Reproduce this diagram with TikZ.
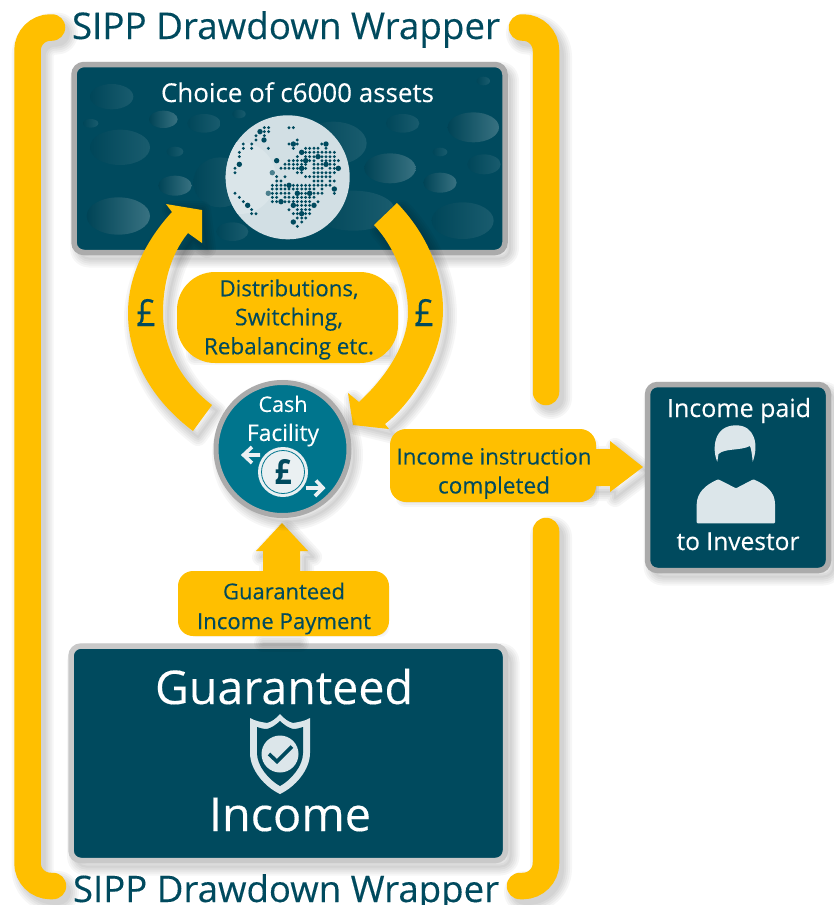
\documentclass[tikz,border=0pt]{standalone}
\usepackage{fontspec}
\usepackage{graphicx}
\setmainfont[FakeBold=0.25,BoldFeatures={FakeBold=0}]{Open Sans}
\definecolor{gold}{HTML}{FFBF00}
\definecolor{deep}{HTML}{004A5E}
\definecolor{teal1}{HTML}{00758D}
\definecolor{pale}{HTML}{DCE6EA}
\definecolor{globebase}{HTML}{D2DFE4}
\definecolor{globelight}{HTML}{DAE5E9}
\definecolor{edge}{HTML}{ABABAB}
\definecolor{edgeb}{HTML}{C9C9C9}
\newcommand\W[2]{\resizebox{#1pt}{!}{#2}}
\newcommand\softshadow[2][]{\foreach \w in {18,14,10,6,2}{\path[draw=black,draw opacity=.035,line width=\w pt,line join=round,line cap=round,shift={(5,6)},#1] #2;}}
\newcommand\bub[5]{\shade[left color=#5L,right color=#5R] ({60+#1/3},{50+#2/3}) ellipse ({#3/3} and {#4/3});}
\colorlet{strongL}{deep!92!black}
\colorlet{strongR}{deep!78!white}
\colorlet{softL}{deep!95!black}
\colorlet{softR}{deep!90!white}
\newcommand\dotrow[2]{\foreach \x in {#2}{\fill[deep] ({220+\x/3},{115+#1/3}) circle (1.6pt);}}
\newcommand\bigdot[2]{\fill[deep] ({220+#1/3},{115+#2/3}) circle (2.7pt);}
\tikzset{
  box/.style={rectangle,rounded corners=10pt,draw=edge,line width=5.5pt,fill=deep,inner sep=0pt},
  pill/.style={rectangle,fill=gold,inner sep=0pt,align=center,text=deep},
  wrap/.style={draw=gold,line width=26.5pt,line cap=round,rounded corners=23pt},
  lbl/.style={inner sep=0pt,anchor=base},
  multi/.style={inner sep=0pt,align=center,font=\fontsize{20}{#1}\selectfont},
  wrapshadow/.style={line width=24pt+\w pt}
}
\begin{document}
\begin{tikzpicture}[x=1pt,y=-1pt]
\useasboundingbox (0,0) rectangle (834,905);
\fill[white] (0,0) rectangle (834,905);
% wrapper brackets
\softshadow[wrapshadow,rounded corners=23pt]{(52,27.5) -- (27.5,27.5) -- (27.5,886) -- (53,886)}
\softshadow[wrapshadow,rounded corners=23pt]{(522,27.5) -- (546,27.5) -- (546,392)}
\softshadow[wrapshadow,rounded corners=23pt]{(546,531) -- (546,886) -- (520,886)}
\draw[wrap] (52,27.5) -- (27.5,27.5) -- (27.5,886) -- (53,886);
\draw[wrap] (522,27.5) -- (546,27.5) -- (546,392);
\draw[wrap] (546,531) -- (546,886) -- (520,886);
\node[lbl,text=deep] (wraptop) at (286,39) {\W{428}{SIPP Drawdown Wrapper}};
\node[lbl,text=deep] (wrapbot) at (286,902) {\W{426}{SIPP Drawdown Wrapper}};
% assets box
\softshadow[rounded corners=10pt]{(74,64.5) rectangle (505,252.5)}
\node[box,minimum width=431pt,minimum height=188pt] (assets) at (289.5,158.5) {};
\bub{155}{140}{65}{38}{soft}
\bub{310}{208}{43}{26}{strong}
\bub{432}{220}{50}{28}{soft}
\bub{537}{192}{20}{13}{soft}
\bub{92}{220}{23}{13}{soft}
\bub{180}{292}{90}{53}{soft}
\bub{345}{305}{25}{15}{soft}
\bub{345}{407}{50}{30}{strong}
\bub{175}{498}{95}{56}{strong}
\bub{1270}{93}{20}{13}{soft}
\bub{1028}{220}{50}{28}{soft}
\bub{1240}{232}{77}{45}{strong}
\bub{1140}{306}{22}{13}{soft}
\bub{1272}{343}{50}{30}{soft}
\bub{990}{355}{77}{45}{strong}
\bub{1140}{398}{50}{30}{strong}
\bub{1208}{512}{93}{55}{soft}
\bub{880}{482}{125}{60}{soft}
\bub{517}{545}{48}{28}{soft}
\bub{480}{397}{80}{75}{soft}
\bub{820}{280}{100}{65}{soft}
% globe
\node[circle,fill=globebase,minimum size=124pt,inner sep=0pt] (globe) at (287.7,177.3) {};
\begin{scope}
\clip (287.7,177.3) circle (62pt);
\fill[globelight] (240,178) circle (36pt);
\end{scope}
\dotrow{38}{133,146,207,220}
\dotrow{50}{133,146}
\dotrow{62}{108,133}
\dotrow{75}{108,232}
\dotrow{87}{70,95,207,232,305}
\dotrow{100}{70,95,145,220,257,269,282,294,318}
\dotrow{112}{58,257,269,282,294,306,318,330,343}
\dotrow{125}{58,232,257,269,282,306,318,330,343}
\dotrow{137}{207,220,232,245,269,282,306,318,330,343,355}
\dotrow{148}{195,207,220,232,245,257,282,294,306,330,343}
\dotrow{160}{45,183,195,207,220,232,257,282,294,306,330,343}
\dotrow{173}{45,232,245,282,294,306,318,330,343}
\dotrow{185}{170,195,257,269,282,294,306,318,330}
\dotrow{198}{170,183,282,294,306,330,343}
\dotrow{211}{157,170,183,195,220,232,245,257,269,282,294,306,318,330}
\dotrow{222}{157,170,183,195,207,220,232,245,257,269,282,306}
\dotrow{235}{45,157,170,183,195,207,245,257,282,294,306,343}
\dotrow{247}{58,157,170,195,207,220,232,245,257,269,282}
\dotrow{260}{70,157,170,195,207,220,232,245,257,269,294}
\dotrow{271}{232,245,257,269}
\dotrow{284}{95,207,232,245,257,269}
\dotrow{296}{95,108,220,232,257,269}
\dotrow{309}{232,245,257}
\dotrow{321}{245}
\dotrow{334}{232}
\bigdot{120}{50}\bigdot{132}{75}\bigdot{58}{148}\bigdot{170}{137}\bigdot{220}{87}\bigdot{245}{112}\bigdot{318}{87}\bigdot{257}{137}\bigdot{294}{125}\bigdot{245}{160}\bigdot{318}{148}\bigdot{355}{160}\bigdot{207}{211}\bigdot{343}{222}\bigdot{232}{235}\bigdot{269}{235}\bigdot{183}{260}\bigdot{220}{271}\bigdot{282}{271}\bigdot{245}{296}\bigdot{220}{321}\bigdot{83}{271}
\fill[deep!70!white] (272.3,172.7) circle (2.7pt);
\fill[deep!70!white] (268.3,193.3) circle (2.7pt);
\node[lbl,text=white] (assetstitle) at (297.5,102) {\W{273}{Choice of c6000 assets}};
% distributions pill
\softshadow{(190,285) rectangle (385,350)}
\node[pill,rounded corners=38pt,minimum width=221pt,minimum height=91pt] (dist) at (287.5,317.5) {};
\node[multi=29,text=deep] (disttext) at (289,319.5) {\W{139}{Distributions,}\\\W{108}{Switching,}\\\W{170}{Rebalancing etc.}};
% curved arrows
\coordinate (lefttip) at (202,210);
\coordinate (righttip) at (353,425);
\softshadow{(193,431) .. controls (157,404) and (128,363) .. (128,313) .. controls (128,275) and (147,239) .. (172,212) -- (166,204) -- (lefttip) -- (202,243) -- (188,233) .. controls (170,255) and (163,285) .. (163,313) .. controls (163,350) and (184,384) .. (212,405) -- cycle}
\fill[gold] (193,431) .. controls (157,404) and (128,363) .. (128,313) .. controls (128,275) and (147,239) .. (172,212) -- (166,204) -- (lefttip) -- (202,243) -- (188,233) .. controls (170,255) and (163,285) .. (163,313) .. controls (163,350) and (184,384) .. (212,405) -- cycle;
\softshadow{(397,203) .. controls (425,232) and (443,270) .. (443,310) .. controls (443,355) and (413,402) .. (385,424) -- (389,429) -- (righttip) -- (348,393) -- (359,402) .. controls (385,378) and (408,345) .. (408,312) .. controls (408,280) and (394,246) .. (374,225) -- cycle}
\fill[gold] (397,203) .. controls (425,232) and (443,270) .. (443,310) .. controls (443,355) and (413,402) .. (385,424) -- (389,429) -- (righttip) -- (348,393) -- (359,402) .. controls (385,378) and (408,345) .. (408,312) .. controls (408,280) and (394,246) .. (374,225) -- cycle;
\node[lbl,text=deep] (poundl) at (146,326) {\resizebox{19pt}{27pt}{£}};
\node[lbl,text=deep] (poundr) at (424,326) {\resizebox{19pt}{27pt}{£}};
% guaranteed box
\softshadow[rounded corners=10pt]{(71,646) rectangle (505.5,860.5)}
\node[box,draw=edgeb,minimum width=434.5pt,minimum height=214.5pt] (guar) at (288.25,753.25) {};
\node[lbl,text=white] (guartext) at (284,704) {\W{258}{Guaranteed}};
\node[lbl,text=white] (inctext) at (290,831) {\W{162}{Income}};
\fill[pale] (280,714) .. controls (276,719) and (271,722) .. (267,723) .. controls (261,722) and (255,721) .. (250,718) -- (250,753) .. controls (250,770) and (265,787) .. (280,794) .. controls (295,787) and (310,770) .. (310,753) -- (310,718) .. controls (305,721) and (299,722) .. (293,723) .. controls (289,722) and (284,719) .. (280,714) -- cycle;
\fill[deep] (280,721) .. controls (276,725) and (271,728) .. (267,729) .. controls (263,729) and (260,728) .. (257,727) -- (257,753) .. controls (257,766) and (269,780) .. (280,786) .. controls (291,780) and (303,766) .. (303,753) -- (303,727) .. controls (300,728) and (297,729) .. (293,729) .. controls (289,728) and (284,725) .. (280,721) -- cycle;
\fill[pale] (280,754) circle (18.5pt);
\draw[deep,line width=3.6pt] (269,754) -- (277,761.5) -- (292,746.5);
% guaranteed payment
\softshadow{(263,600) -- (263,551) -- (256,551) -- (282,523) -- (308,551) -- (300,551) -- (300,600) -- cycle}
\softshadow{(192,585) rectangle (375,622)}
\softshadow{(258,637) -- (295,637)}
\fill[gold] (263,600) -- (263,551) -- (256,551) -- (282,523) -- (308,551) -- (300,551) -- (300,600) -- cycle;
\node[pill,rounded corners=15pt,minimum width=211pt,minimum height=65pt] (pay) at (283.5,603.5) {};
\node[multi=29.8,text=deep] (paytext) at (284,608.5) {\W{122}{Guaranteed}\\\W{174}{Income Payment}};
% cash facility
\softshadow{(282.5,449) circle (66.5pt)}
\node[circle,draw=edge,line width=5pt,fill=teal1,minimum size=133pt,inner sep=0pt] (cash) at (282.5,449) {};
\node[multi=29,text=white] (cashtext) at (283,421) {\W{49}{Cash}\\\W{72}{Facility}};
\node[circle,fill=pale!60!white,minimum size=50pt,inner sep=0pt] (coin) at (283,472) {};
\draw[teal1,line width=.8pt] (coin.center) circle (21.5pt);
\node[lbl,text=deep] (coinpound) at (283,484) {\resizebox{17pt}{25pt}{\bfseries £}};
\draw[pale!60!white,line width=3.6pt,line join=miter] (260,455) -- (243,455) (252,447) -- (243.5,455) -- (252,463);
\draw[pale!60!white,line width=3.6pt,line join=miter] (306,488) -- (323,488) (316,480.5) -- (323,488) -- (315,496);
% income instruction
\softshadow{(596,449) -- (610,449) -- (610,441) -- (643,467) -- (610,492) -- (610,486) -- (590,486) -- cycle}
\softshadow{(400,440) rectangle (585,492)}
\fill[gold] (590,449) -- (610,449) -- (610,441) -- (643,467) -- (610,492) -- (610,486) -- (590,486) -- cycle;
\node[pill,rounded corners=16pt,minimum width=206pt,minimum height=73pt] (instr) at (493,465.5) {};
\node[multi=29,text=deep] (instrtext) at (494,473.5) {\W{195}{Income instruction}\\\W{112}{completed}};
% investor box
\softshadow[rounded corners=10pt]{(647.5,384.5) rectangle (828.5,570.5)}
\node[box,minimum width=181pt,minimum height=186pt] (investor) at (738,477.5) {};
\node[lbl,text=white] (paidtext) at (739,417) {\W{144}{Income paid}};
\node[lbl,text=white] (invtext) at (738,550) {\W{123}{to Investor}};
\fill[pale] (717.3,461.7) .. controls (712,450) and (713,425.3) .. (736,425.3) .. controls (755,425.3) and (759,445) .. (752.7,461.7) .. controls (752,455) and (751.5,450) .. (750,446) .. controls (740,451) and (725,448) .. (718.5,454) -- cycle;
\fill[pale,rounded corners=1pt] (696.7,523.3) -- (696.7,505) .. controls (697,493) and (705,485) .. (718.3,479.3) -- (736,488.3) -- (753.3,479.3) .. controls (767,485) and (775,493) .. (775,505) -- (775,523.3) -- cycle;
\end{tikzpicture}
\end{document}
